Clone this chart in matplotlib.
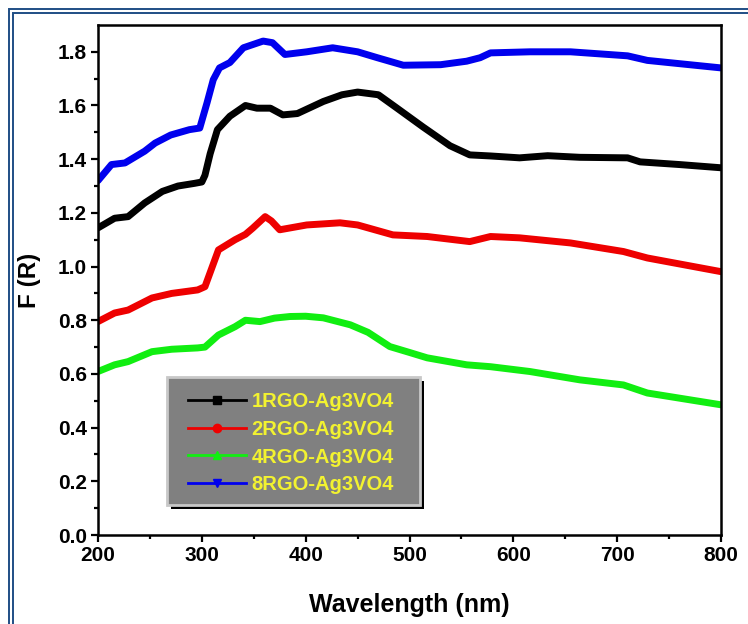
import matplotlib.pyplot as plt
from matplotlib.lines import Line2D
from matplotlib.patches import Rectangle

plt.rcParams['font.family'] = ['Liberation Sans', 'DejaVu Sans']
plt.rcParams['font.weight'] = 'bold'

# 1RGO-Ag3VO4
x1 = [200, 216, 229, 245, 262, 277, 293, 300, 303, 308, 315, 327, 342, 353, 366, 378,
      392, 417, 435, 450, 470, 488, 513, 539, 558, 578, 606, 633, 664, 710, 722, 760, 800]
y1 = [1.144, 1.18, 1.186, 1.237, 1.28, 1.30, 1.31, 1.315, 1.34, 1.42, 1.51, 1.56, 1.60, 1.59,
      1.59, 1.565, 1.57, 1.615, 1.64, 1.65, 1.64, 1.59, 1.52, 1.45, 1.416, 1.412, 1.405,
      1.413, 1.407, 1.405, 1.39, 1.38, 1.368]

# 2RGO-Ag3VO4
x2 = [200, 216, 229, 252, 271, 296, 303, 316, 332, 342, 349, 361, 367, 375, 401, 433,
      450, 484, 517, 558, 578, 606, 655, 706, 729, 800]
y2 = [0.795, 0.827, 0.838, 0.883, 0.90, 0.913, 0.925, 1.062, 1.10, 1.12, 1.143, 1.186,
      1.17, 1.137, 1.155, 1.163, 1.155, 1.118, 1.112, 1.093, 1.112, 1.107, 1.088, 1.056,
      1.032, 0.981]

# 4RGO-Ag3VO4
x4 = [200, 216, 229, 252, 271, 296, 303, 316, 332, 342, 356, 370, 385, 400, 417, 443,
      460, 481, 500, 517, 555, 578, 616, 664, 706, 729, 800]
y4 = [0.609, 0.634, 0.646, 0.683, 0.692, 0.697, 0.70, 0.745, 0.776, 0.80, 0.795, 0.808,
      0.814, 0.815, 0.809, 0.783, 0.755, 0.702, 0.68, 0.66, 0.634, 0.627, 0.609, 0.578,
      0.559, 0.529, 0.485]

# 8RGO-Ag3VO4
x8 = [200, 213, 226, 245, 255, 270, 288, 298, 305, 311, 317, 327, 340, 359, 368, 380,
      401, 426, 450, 469, 494, 530, 555, 568, 578, 616, 655, 710, 729, 800]
y8 = [1.32, 1.38, 1.386, 1.43, 1.46, 1.49, 1.51, 1.516, 1.61, 1.696, 1.74, 1.76, 1.815,
      1.84, 1.834, 1.79, 1.80, 1.815, 1.80, 1.778, 1.75, 1.752, 1.765, 1.778, 1.796, 1.80,
      1.80, 1.785, 1.768, 1.74]

labels = ['1RGO-Ag3VO4', '2RGO-Ag3VO4', '4RGO-Ag3VO4', '8RGO-Ag3VO4']
colors = ['#000000', '#ee0000', '#11ee11', '#0000ee']
markers = ['s', 'o', '^', 'v']

fig = plt.figure(figsize=(7.48, 6.24), dpi=100)
ax = fig.add_axes([0.131, 0.1426, 0.833, 0.8174])

for xs, ys, c in zip([x1, x2, x4, x8], [y1, y2, y4, y8], colors):
    ax.plot(xs, ys, color=c, lw=5, solid_capstyle='round', solid_joinstyle='round')

ax.set_xlim(200, 800)
ax.set_ylim(0, 1.9)
ax.set_xticks(range(200, 801, 100))
ax.set_xticks(range(250, 800, 100), minor=True)
ax.set_yticks([0.0, 0.2, 0.4, 0.6, 0.8, 1.0, 1.2, 1.4, 1.6, 1.8])
ax.set_yticks([0.1, 0.3, 0.5, 0.7, 0.9, 1.1, 1.3, 1.5, 1.7], minor=True)
ax.set_yticklabels(['0.0', '0.2', '0.4', '0.6', '0.8', '1.0', '1.2', '1.4', '1.6', '1.8'])
ax.tick_params(which='major', direction='out', length=5, width=1.6, labelsize=15, pad=3)
ax.tick_params(which='minor', direction='out', length=3, width=1.6)
for s in ax.spines.values():
    s.set_linewidth(1.8)

ax.set_xlabel('Wavelength (nm)', fontsize=18, fontweight='bold', labelpad=20)
ax.set_ylabel('F (R)', fontsize=17.5, fontweight='bold', labelpad=12)

# legend box: grey panel with black drop shadow, drawn behind a frameless legend
ax.add_patch(Rectangle((0.1172, 0.051), 0.406, 0.251, transform=ax.transAxes,
                       facecolor='black', edgecolor='none', zorder=5))
ax.add_patch(Rectangle((0.1108, 0.0588), 0.406, 0.251, transform=ax.transAxes,
                       facecolor='#808080', edgecolor='#c8c8c8', lw=2, zorder=5))

handles = [Line2D([], [], color=c, lw=2, marker=m, markersize=6) for c, m in zip(colors, markers)]
leg = ax.legend(handles, labels, loc='upper left', bbox_to_anchor=(0.1445, 0.280),
                borderaxespad=0, borderpad=0, frameon=False, fontsize=14.5,
                labelcolor='#f2f230', handlelength=2.9, handletextpad=0.25,
                labelspacing=0.43)
leg.set_zorder(6)
for t in leg.get_texts():
    t.set_fontweight('bold')

# double blue border around the picture
for off in (8.5, 12.5):
    fig.patches.append(Rectangle((off / 748, -0.1), 1.2, (624 - off) / 624 + 0.1,
                                 transform=fig.transFigure, fill=False,
                                 edgecolor='#1f4e85', lw=1.4))

fig.savefig('out.png', dpi=100)
